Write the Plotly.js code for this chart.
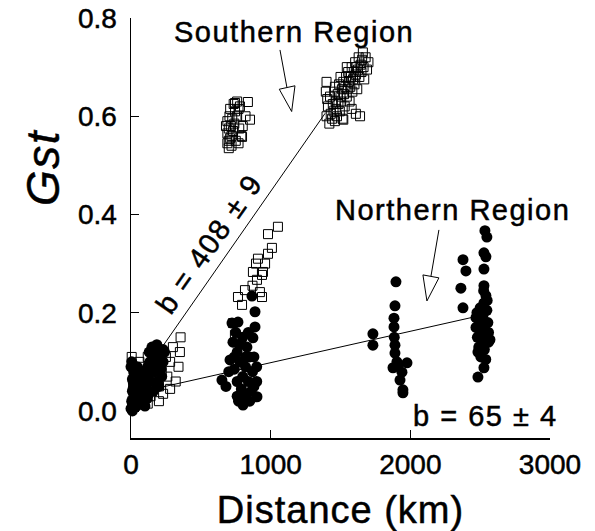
<!DOCTYPE html>
<html>
<head>
<meta charset="utf-8">
<script src="https://cdn.plot.ly/plotly-3.0.1.min.js"></script>
<style>
html,body{margin:0;padding:0;background:#fff;}
#chart{width:595px;height:531px;}
.annotation-text{letter-spacing:1.5px;}
.xtitle{letter-spacing:1px;}
.main-svg text{stroke:#000;stroke-width:0.5px;}
</style>
</head>
<body>
<div id="chart"></div>
<script>
// ---- Southern Region (open squares) ----
var southX = [10,15,20,25,30,40,50,60,70,80,90,100,110,120,130,140,150,160,170,180,190,200,210,220,230,250,260,280,300,320,340,350,355,280,200,120,60,5,
  690,700,710,720,690,700,715,730,740,725,705,690,745,760,770,735,760,745,780,800,790,837,852,795,770,720,700,750,680,710,775,820,
  1052,981,1009,981,909,895,873,945,902,938,816,766,795,938,923,744,730,760,870,960,
  1400,1410,1420,1425,1430,1440,1445,1450,1455,1460,1465,1470,1475,1480,1485,1490,1495,1500,1505,1510,1515,1520,1525,1530,1535,1540,1545,1550,1555,1560,1565,1570,1575,1580,1585,1590,1595,1600,1605,1610,1615,1620,1625,1630,1635,1640,1645,1650,1655,1660,1665,1670,1680,1690,1700,1520,1580,1610,1460,1500,1545,1395,1400,1405];
var southY = [0.02,0.05,0.08,0.01,0.04,0.06,0.03,0.07,0.02,0.05,0.09,0.04,0.06,0.11,0.08,0.03,0.12,0.10,0.06,0.13,0.09,0.05,0.12,0.08,0.035,0.11,0.07,0.10,0.13,0.06,0.09,0.12,0.15,0.045,0.02,0.015,0.10,0.11,
  0.545,0.55,0.555,0.56,0.565,0.575,0.58,0.57,0.585,0.595,0.60,0.59,0.61,0.60,0.615,0.625,0.63,0.627,0.62,0.58,0.56,0.629,0.593,0.558,0.545,0.54,0.535,0.55,0.58,0.615,0.575,0.60,
  0.375,0.36,0.332,0.32,0.31,0.30,0.283,0.283,0.267,0.277,0.246,0.232,0.216,0.232,0.242,0.155,0.179,0.14,0.255,0.30,
  0.60,0.62,0.585,0.64,0.605,0.595,0.625,0.61,0.65,0.59,0.63,0.615,0.60,0.645,0.625,0.665,0.61,0.64,0.63,0.655,0.595,0.67,0.645,0.62,0.66,0.68,0.64,0.655,0.69,0.67,0.63,0.66,0.68,0.70,0.65,0.675,0.69,0.665,0.71,0.685,0.70,0.655,0.695,0.72,0.68,0.60,0.705,0.69,0.715,0.73,0.70,0.675,0.72,0.695,0.71,0.593,0.615,0.605,0.66,0.68,0.70,0.65,0.67,0.635];

// ---- Northern Region (filled circles) ----
var northX = [0,5,10,15,20,0,10,25,30,35,40,45,50,55,60,70,80,90,100,110,120,130,140,150,160,170,180,190,200,210,220,230,150,120,200,240,5,
  10,20,30,40,50,15,35,45,55,65,25,10,60,75,85,95,105,115,125,135,145,160,175,185,200,215,230,
  866,888,723,766,888,873,651,802,902,709,750,800,830,760,850,780,820,740,870,800,760,840,880,790,820,760,850,800,880,900,730,780,840,700,680,860,900,770,820,740,
  1732,1732,1897,1890,1883,1883,1890,1890,1904,1976,1876,1940,1926,1947,1947,1911,1885,
  2377,2398,2362,2377,
  2534,2548,2527,2541,2527,2527,2541,2527,2500,2548,2477,2520,2490,2555,2510,2470,2535,2500,2480,2545,2515,2560,2490,2530,2484,2505,2540,2527,2484,2550,2470,2525,2560,2570];
var northY = [0.005,0.02,0.04,0.06,0.08,0.09,0.0,0.03,0.05,0.07,0.01,0.09,0.04,0.02,0.06,0.08,0.03,0.05,0.01,0.07,0.09,0.12,0.06,0.10,0.04,0.08,0.11,0.06,0.09,0.12,0.07,0.10,0.13,0.03,0.05,0.12,0.10,
  0.015,0.035,0.055,0.075,0.085,0.045,0.025,0.045,0.065,0.04,0.07,0.065,0.015,0.06,0.02,0.075,0.045,0.025,0.06,0.10,0.08,0.125,0.095,0.135,0.11,0.085,0.125,
  0.234,0.202,0.179,0.181,0.171,0.149,0.063,0.012,0.029,0.104,0.16,0.15,0.13,0.12,0.11,0.10,0.09,0.085,0.08,0.07,0.06,0.06,0.05,0.045,0.035,0.03,0.02,0.025,0.11,0.09,0.14,0.135,0.16,0.08,0.05,0.04,0.06,0.02,0.11,0.11,
  0.157,0.134,0.263,0.214,0.189,0.171,0.134,0.118,0.100,0.098,0.088,0.079,0.063,0.043,0.037,0.094,0.15,
  0.308,0.285,0.250,0.210,
  0.367,0.354,0.322,0.314,0.289,0.255,0.235,0.22,0.21,0.205,0.20,0.195,0.185,0.18,0.175,0.17,0.165,0.16,0.15,0.15,0.14,0.14,0.13,0.125,0.120,0.11,0.105,0.088,0.069,0.225,0.19,0.245,0.16,0.145];

// ---- Regression lines (slopes b x 10^-6 per km) ----
var southLineX = [230, 1390];
var southLineY = [0.133, 0.606];
var northLineX = [150, 2450];
var northLineY = [0.044, 0.191];

// ---- Axis ticks ----
var xTicks = [0, 1000, 2000, 3000];
var yTicks = [0, 0.2, 0.4, 0.6, 0.8];
var yTickText = ['0.0', '0.2', '0.4', '0.6', '0.8'];

var FONT = 'Liberation Sans, Arial, Helvetica, sans-serif';

var traces = [
  {x: southLineX, y: southLineY, mode: 'lines', type: 'scatter',
   line: {color: '#000', width: 1}, hoverinfo: 'skip', showlegend: false},
  {x: northLineX, y: northLineY, mode: 'lines', type: 'scatter',
   line: {color: '#000', width: 1}, hoverinfo: 'skip', showlegend: false},
  {x: southX, y: southY, mode: 'markers', type: 'scatter', name: 'Southern Region',
   cliponaxis: false,
   marker: {symbol: 'square-open', size: 9, color: '#000', line: {width: 1, color: '#000'}},
   showlegend: false},
  {x: northX, y: northY, mode: 'markers', type: 'scatter', name: 'Northern Region',
   cliponaxis: false,
   marker: {symbol: 'circle', size: 11, color: '#000', line: {width: 0}},
   showlegend: false}
];

var layout = {
  width: 595, height: 531,
  margin: {l: 131, r: 45, t: 18, b: 93},
  paper_bgcolor: '#fff', plot_bgcolor: '#fff',
  font: {family: FONT, color: '#000'},
  showlegend: false,
  xaxis: {
    range: [0, 3000], tickvals: xTicks, ticktext: xTicks.map(String),
    ticks: 'inside', ticklen: 8, tickwidth: 1.5, tickcolor: '#000',
    showline: true, linewidth: 1.5, linecolor: '#000',
    showgrid: false, zeroline: false,
    tickfont: {family: FONT, size: 28, color: '#000'},
    ticklabelstandoff: 1,
    title: {text: 'Distance (km)', font: {family: FONT, size: 38, color: '#000'}, standoff: 22}
  },
  yaxis: {
    range: [-0.055, 0.8], tickvals: yTicks, ticktext: yTickText,
    ticks: 'inside', ticklen: 8, tickwidth: 1.5, tickcolor: '#000',
    showline: true, linewidth: 1.5, linecolor: '#000',
    showgrid: false, zeroline: false,
    tickfont: {family: FONT, size: 28, color: '#000'},
    ticklabelstandoff: 7
  },
  annotations: [
    {xref: 'paper', yref: 'paper', x: -0.21, y: 0.643, text: '<i>Gst</i>', showarrow: false,
     textangle: -90, font: {family: FONT, size: 46, color: '#000'}, xanchor: 'center', yanchor: 'middle'},
    {xref: 'x', yref: 'y', x: 1170, y: 0.772, text: 'Southern Region', showarrow: false,
     font: {family: FONT, size: 29, color: '#000'}, xanchor: 'center', yanchor: 'middle'},
    {xref: 'x', yref: 'y', x: 2305, y: 0.409, text: 'Northern Region', showarrow: false,
     font: {family: FONT, size: 29, color: '#000'}, xanchor: 'center', yanchor: 'middle'},
    {xref: 'x', yref: 'y', x: 2540, y: -0.01, text: 'b = 65 \u00b1 4', showarrow: false,
     font: {family: FONT, size: 29, color: '#000'}, xanchor: 'center', yanchor: 'middle'},
    {xref: 'x', yref: 'y', x: 558, y: 0.340, text: 'b = 408 \u00b1 9', showarrow: false,
     textangle: -55, font: {family: FONT, size: 29, color: '#000'}, xanchor: 'center', yanchor: 'middle'}
  ],
  shapes: [
    {type: 'line', xref: 'x', yref: 'y', x0: 1066.6, y0: 0.735, x1: 1116.7, y1: 0.658,
     line: {color: '#000', width: 1}},
    {type: 'path', xref: 'x', yref: 'y', path: 'M 1061.6,0.655 L 1174,0.662 L 1150.3,0.6096 Z',
     fillcolor: '#fff', line: {color: '#000', width: 1}},
    {type: 'line', xref: 'x', yref: 'y', x0: 2204.7, y0: 0.3686, x1: 2147.5, y1: 0.274,
     line: {color: '#000', width: 1}},
    {type: 'path', xref: 'x', yref: 'y', path: 'M 2090.2,0.277 L 2204.7,0.271 L 2118.8,0.224 Z',
     fillcolor: '#fff', line: {color: '#000', width: 1}}
  ]
};

Plotly.newPlot('chart', traces, layout, {staticPlot: true, displayModeBar: false});
</script>
</body>
</html>
